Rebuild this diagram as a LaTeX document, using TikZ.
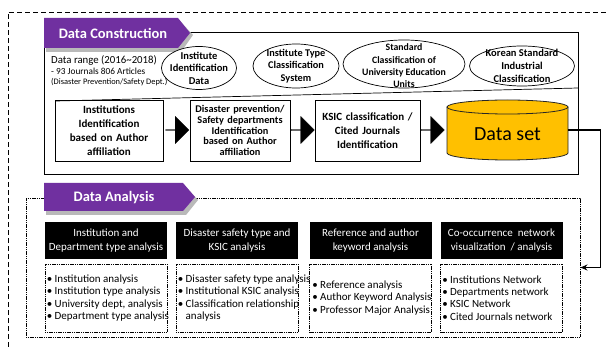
\documentclass[tikz,border=0pt]{standalone}
\usepackage{fontspec}
\setmainfont{Carlito}
\usetikzlibrary{shapes.geometric,shapes.arrows,arrows.meta,calc}
\definecolor{tabpurple}{HTML}{7030A0}
\definecolor{dsgold}{HTML}{FFC000}
\newcommand\fsz[2]{\fontsize{#1}{#2}\selectfont}
\tikzset{
  procbox/.style={draw, line width=0.9pt, align=center, inner sep=1pt, font=\bfseries\fsz{11}{14}},
  ell/.style={ellipse, draw, line width=0.7pt, inner sep=0pt},
  elltext/.style={align=center, font=\bfseries\fsz{10.3}{12.5}},
  blockarrow/.style={single arrow, fill=black, draw=black, minimum width=27pt, minimum height=23pt,
     single arrow head extend=5.5pt, single arrow tip angle=90, inner sep=0pt},
  hdr/.style={fill=black, text=white, align=center, font=\fsz{11}{14}, minimum width=122pt,
     minimum height=37pt, inner sep=0pt},
  listbox/.style={draw, dash pattern=on 1.2pt off 0.6pt, line width=0.9pt, minimum width=122pt, minimum height=68pt,
     inner sep=0pt},
  listtext/.style={anchor=west, align=left, inner sep=0pt, font=\fsz{11}{12.4}},
  tabtext/.style={text=white, font=\bfseries\fsz{14.5}{16}},
  bigbox/.style={draw, line width=0.9pt, inner sep=0pt},
}
\begin{document}
\begin{tikzpicture}[x=1pt,y=-1pt]
\useasboundingbox (0,0) rectangle (607,347);
% outer dashed frame (clipped)
\draw[dash pattern=on 5pt off 3pt, line width=0.6pt] (8,347) -- (8,12) -- (607,12);

% ---------- Data Construction ----------
\node[bigbox, minimum width=534pt, minimum height=142pt] (dc) at (311,103) {};
\fill[gray!55] (46,21) -- (180,21) -- (193,35) -- (181,52) -- (46,52) -- cycle;
\fill[tabpurple] (44,18) -- (178,18) -- (190,33) -- (178,48) -- (44,48) -- cycle;
\node[tabtext] (dctitle) at (113,33) {Data Construction};

\node[anchor=north west, align=left, inner sep=0pt] (range) at (51,55)
  {{\fsz{10.8}{13}Data range (2016\textasciitilde2018)}\\[-1pt]
   {\fsz{9.3}{11}- 93 Journals 806 Articles}\\[-2pt]
   {\fsz{8.4}{10}(Disaster Prevention/Safety Dept.)}};

\draw[line width=0.7pt] (56,101) -- (578,88);

\node[ell, minimum width=75pt, minimum height=43pt, fill=white] (e1) at (199,68) {};
\node[elltext, font=\bfseries\fsz{10.5}{12.5}] (e1t) at (e1) {Institute\\Identification\\Data};
\node[ell, minimum width=86pt, minimum height=44pt, fill=white] (e2) at (296,66) {};
\node[elltext] (e2t) at (e2) {Institute Type\\Classification\\System};
\node[ell, minimum width=122pt, minimum height=48pt, fill=white] (e3) at (404,64) {};
\node[elltext, font=\bfseries\fsz{9.8}{12.3}] (e3t) at (404,66) {Standard\\Classification of\\University Education\\Units};
\node[ell, minimum width=105pt, minimum height=40pt, fill=white] (e4) at (522,66) {};
\node[elltext, font=\bfseries\fsz{10.5}{13}] (e4t) at (e4) {Korean Standard\\Industrial\\Classification};

\node[procbox, minimum width=108pt, minimum height=61pt, text width=104pt] (b1) at (109,130.5)
  {Institutions\\Identification\\based on Author\\affiliation};
\node[procbox, minimum width=100pt, minimum height=61pt, text width=98pt, font=\bfseries\fsz{10.3}{10.7}] (b2) at (240,130.5)
  {Disaster prevention/\\Safety departments\\Identification\\based on Author\\affiliation};
\node[procbox, minimum width=105pt, minimum height=61pt, text width=103pt] (b3) at (367.5,130.5)
  {KSIC classification /\\Cited Journals\\Identification};

% cylinder "Data set"
\fill[dsgold] (447,107) -- (447,153) arc[start angle=180, end angle=360, x radius=60.5pt, y radius=7pt]
   -- (568,107) arc[start angle=0, end angle=180, x radius=60.5pt, y radius=7pt] -- cycle;
\draw[black!85, line width=0.8pt] (447,107) -- (447,153) arc[start angle=180, end angle=360, x radius=60.5pt, y radius=7pt]
   -- (568,107);
\draw[black!85, line width=0.8pt] (507.5,107) ellipse[x radius=60.5pt, y radius=7pt];
\node[minimum width=121pt, minimum height=60pt, inner sep=0pt] (ds) at (507.5,130) {};
\node[font=\fsz{20}{22}] (dst) at (507.5,134) {Data set};

\node[blockarrow] (ar1) at (177,130) {};
\node[blockarrow] (ar2) at (302.5,130) {};
\node[blockarrow] (ar3) at (432.5,130) {};

% ---------- Data Analysis ----------
\node[bigbox, dash pattern=on 1.2pt off 0.6pt, minimum width=554pt, minimum height=139pt] (an) at (303,267.5) {};
\fill[gray!55] (46,186) -- (185,186) -- (198,200) -- (186,215) -- (46,215) -- cycle;
\fill[tabpurple] (44,183) -- (183,183) -- (195,197) -- (183,211) -- (44,211) -- cycle;
\node[tabtext] (antitle) at (114,198) {Data Analysis};

\node[hdr] (h1) at (106,240.5) {Institution and\\Department type analysis};
\node[hdr] (h2) at (237,240.5) {Disaster safety type and\\KSIC analysis};
\node[hdr] (h3) at (370.5,240.5) {Reference and author\\keyword analysis};
\node[hdr] (h4) at (501.5,240.5) {Co-occurrence\ \ network\\visualization\ \ /\ analysis};

\node[listbox] (l1) at (106,298) {};
\node[listbox] (l2) at (237,298) {};
\node[listbox] (l3) at (370.5,298) {};
\node[listbox] (l4) at (501.5,298) {};
\node[listtext] (l1t) at ($(l1.west)+(2,0)$)
  {• Institution analysis\\• Institution type analysis\\• University dept, analysis\\• Department type analysis};
\node[listtext] (l2t) at ($(l2.west)+(2,0)$)
  {• Disaster safety type analysis\\• Institutional KSIC analysis\\• Classification relationship\\\phantom{• }analysis};
\node[listtext] (l3t) at ($(l3.west)+(3,0)$)
  {• Reference analysis\\• Author Keyword Analysis\\• Professor Major Analysis};
\node[listtext] (l4t) at ($(l4.west)+(2,0)$)
  {• Institutions Network\\• Departments network\\• KSIC Network\\• Cited Journals network};

% connector
\draw[line width=1.3pt, -{Stealth[length=7pt,width=6pt]}] (ds.east) -- ++(32,0) |- (an.east);
\end{tikzpicture}
\end{document}
